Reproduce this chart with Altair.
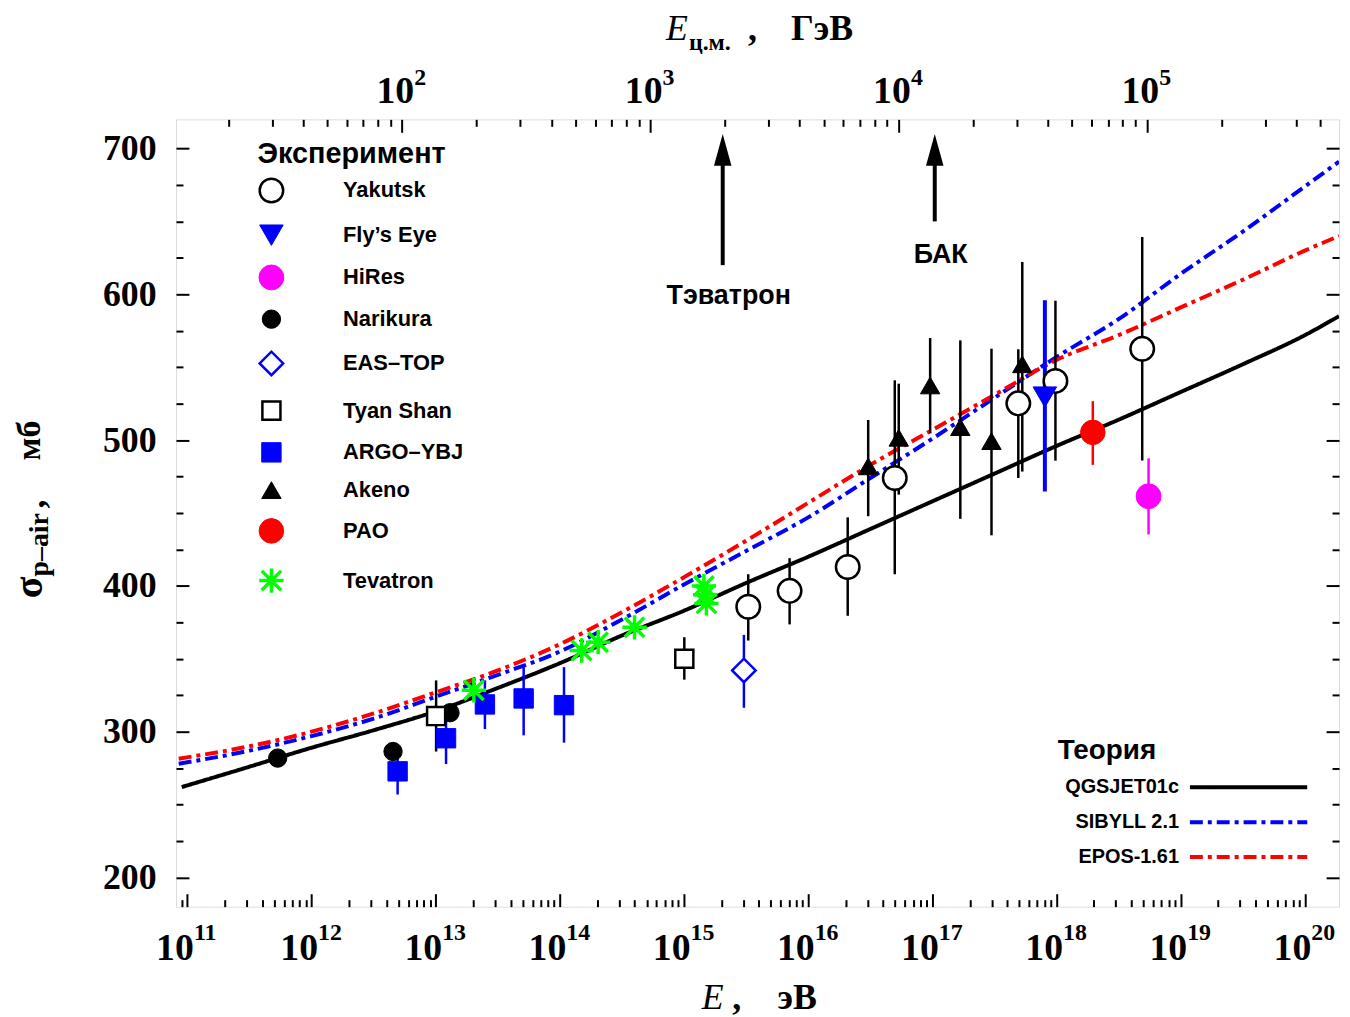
import math
import altair as alt
import pandas as pd

# ---------------- data ----------------
experiments = ["Yakutsk", "Fly’s Eye", "HiRes", "Narikura", "EAS–TOP",
               "Tyan Shan", "ARGO–YBJ", "Akeno", "PAO", "Tevatron"]

# log10(E / eV), sigma (mb), error bar low / high
yakutsk_logE = [15.517, 15.850, 16.318, 16.697, 17.692, 17.991, 18.690]
yakutsk_sigma = [385.7, 396.6, 413.0, 474.0, 525.2, 540.6, 562.6]
yakutsk_lo = [362.5, 373.6, 379.5, 408.0, 474.0, 485.9, 486.0]
yakutsk_hi = [408.0, 419.0, 447.0, 541.0, 562.3, 595.6, 639.3]

flyseye_logE = [17.906]
flyseye_sigma = [529.5]
flyseye_lo = [464.8]
flyseye_hi = [596.0]

hires_logE = [18.741]
hires_sigma = [461.5]
hires_lo = [435.3]
hires_hi = [487.5]

narikura_logE = [11.727, 12.656, 13.115]
narikura_sigma = [281.9, 286.4, 313.0]

eastop_logE = [15.482]
eastop_sigma = [342.0]
eastop_lo = [316.4]
eastop_hi = [366.4]

tyanshan_logE = [13.003, 15.002]
tyanshan_sigma = [310.7, 350.0]
tyanshan_lo = [286.4, 335.7]
tyanshan_hi = [335.2, 364.8]

argo_logE = [12.693, 13.083, 13.396, 13.708, 14.033]
argo_sigma = [272.8, 295.5, 318.7, 322.8, 318.2]
argo_lo = [256.9, 277.8, 301.8, 297.5, 292.5]
argo_hi = [287.5, 313.9, 335.2, 345.4, 344.3]

akeno_logE = [16.483, 16.729, 16.982, 17.225, 17.476, 17.724]
akeno_sigma = [482.0, 501.6, 537.5, 508.9, 499.3, 552.0]
akeno_lo = [447.8, 462.6, 504.6, 446.0, 434.7, 478.4]
akeno_hi = [513.8, 538.7, 570.0, 568.4, 562.7, 622.2]

pao_logE = [18.292]
pao_sigma = [505.3]
pao_lo = [483.0]
pao_hi = [526.7]

tevatron_logE = [13.307, 14.175, 14.308, 14.601, 15.160, 15.170, 15.180]
tevatron_sigma = [328.4, 355.7, 361.4, 371.6, 400.0, 394.0, 388.0]

# theory curves
model_names = ["QGSJET01c", "SIBYLL 2.1", "EPOS-1.61"]
qgsjet_logE = [10.954, 11.5, 12.0, 12.5, 13.0, 13.5, 14.0, 14.5, 15.0, 15.5,
               16.0, 16.5, 17.0, 17.5, 18.0, 18.5, 19.0, 19.5, 20.0, 20.275]
qgsjet_sigma = [262, 276, 289, 301, 314, 330, 347, 366, 383, 402,
                420, 439, 458, 477, 496, 514, 533, 552, 572, 585]
sibyll_logE = [10.93, 11.5, 12.0, 12.5, 13.0, 13.5, 14.0, 14.5, 15.0, 15.5,
               16.0, 16.5, 17.0, 17.5, 18.0, 18.5, 19.0, 19.5, 20.0, 20.275]
sibyll_sigma = [278, 287, 297, 309, 324, 339, 355, 377, 401, 424,
                447, 474, 501, 529, 557, 583, 614, 643, 674, 691]
epos_logE = [10.93, 11.5, 12.0, 12.5, 13.0, 13.5, 14.0, 14.5, 15.0, 15.5,
             16.0, 16.5, 17.0, 17.5, 18.0, 18.5, 19.0, 19.5, 20.0, 20.275]
epos_sigma = [281.5, 290, 300, 312.5, 327, 342, 360, 382, 406, 431,
              457, 483, 507, 531, 555, 572, 591, 610, 630, 640]

# colliders (centre-of-mass energy, GeV)
colliders = ["Тэватрон", "БАК"]
collider_ecm = [1960.0, 14000.0]
arrow_tail = [620.0, 650.0]
arrow_tip = [710.0, 710.0]
collider_label_sigma = [593.6, 621.6]

# axes
logE_min, logE_max = 10.908, 20.275
sigma_min, sigma_max = 180, 720
y_tick_values = list(range(200, 701, 25))
y_label_values = list(range(200, 701, 100))
E_label_exponents = list(range(11, 21))
Ecm_label_exponents = [2, 3, 4, 5]
M_PROTON = 0.938  # GeV

# ---------------- tables ----------------
def ecm_from_logE(le):
    return math.sqrt(2 * M_PROTON * 10 ** (le - 9))

exp_table = {
    "Yakutsk": (yakutsk_logE, yakutsk_sigma, yakutsk_lo, yakutsk_hi),
    "Fly’s Eye": (flyseye_logE, flyseye_sigma, flyseye_lo, flyseye_hi),
    "HiRes": (hires_logE, hires_sigma, hires_lo, hires_hi),
    "Narikura": (narikura_logE, narikura_sigma, None, None),
    "EAS–TOP": (eastop_logE, eastop_sigma, eastop_lo, eastop_hi),
    "Tyan Shan": (tyanshan_logE, tyanshan_sigma, tyanshan_lo, tyanshan_hi),
    "ARGO–YBJ": (argo_logE, argo_sigma, argo_lo, argo_hi),
    "Akeno": (akeno_logE, akeno_sigma, akeno_lo, akeno_hi),
    "PAO": (pao_logE, pao_sigma, pao_lo, pao_hi),
    "Tevatron": (tevatron_logE, tevatron_sigma, None, None),
}
pts, bars = [], []
for name in experiments:
    le, s, lo, hi = exp_table[name]
    for i in range(len(le)):
        pts.append({"exp": name, "E": 10 ** le[i], "sigma": s[i]})
        if lo is not None:
            bars.append({"exp": name, "E": 10 ** le[i], "lo": lo[i], "hi": hi[i]})
points_df = pd.DataFrame(pts)
bars_df = pd.DataFrame(bars)

curve_rows = []
for name, le, s in [(model_names[0], qgsjet_logE, qgsjet_sigma),
                    (model_names[1], sibyll_logE, sibyll_sigma),
                    (model_names[2], epos_logE, epos_sigma)]:
    for a, b in zip(le, s):
        curve_rows.append({"model": name, "E": 10 ** a, "sigma": b})
curves_df = pd.DataFrame(curve_rows)

arrows_df = pd.DataFrame({
    "name": colliders, "Ecm": collider_ecm, "tail": arrow_tail,
    "tip": arrow_tip, "base": [t - 16 for t in arrow_tip],
    "label_sigma": collider_label_sigma,
})

E_dom = [10 ** logE_min, 10 ** logE_max]
Ecm_dom = [ecm_from_logE(logE_min), ecm_from_logE(logE_max)]
E_ticks = [m * 10.0 ** n for n in range(10, 21) for m in range(1, 10)
           if logE_min <= math.log10(m * 10.0 ** n) <= logE_max]
Ecm_ticks = [m * 10.0 ** n for n in range(1, 6) for m in range(1, 10)
             if Ecm_dom[0] <= m * 10.0 ** n <= Ecm_dom[1]]
E_majors = [10.0 ** n for n in E_label_exponents]
Ecm_majors = [10.0 ** n for n in Ecm_label_exponents]

# ---------------- styles ----------------
W, H = 1170, 792
SERIF = "Liberation Serif"
SANS = "Liberation Sans"
STAR = "M0,-1L0,1M-1,0L1,0M-0.8,-0.8L0.8,0.8M-0.8,0.8L0.8,-0.8"
ARROW = "M0,0L0.55,2L-0.55,2Z"
LEGEND_LINE = "M-5,0L5,0"
exp_shapes = ["circle", "triangle-down", "circle", "circle", "diamond",
              "square", "square", "triangle-up", "circle", STAR]
exp_fills = ["white", "#0000ff", "#ff00ff", "black", "white",
             "white", "#0000ff", "black", "#ff0000", "white"]
exp_strokes = ["black", "#0000ff", "#ff00ff", "black", "#0000ff",
               "black", "#0000ff", "black", "#ff0000", "#00ff00"]
exp_sizes = [560, 560, 625, 340, 560, 330, 380, 380, 610, 600]
exp_swidths = [2.5, 1, 1, 1, 2.5, 2.5, 1, 1, 1, 3.5]
model_colors = ["black", "#0000ff", "#ff0000"]
model_dashes = [[1, 0], [13, 5, 4, 5], [13, 5, 4, 5]]
bar_groups = [  # (experiments, colour, width)
    (["Yakutsk", "Tyan Shan", "Akeno"], "black", 2.5),
    (["EAS–TOP", "ARGO–YBJ"], "#0000ff", 2.5),
    (["Fly’s Eye"], "#0000ff", 4),
    (["HiRes"], "#ff00ff", 2.5),
    (["PAO"], "#ff0000", 2.5),
]

xE = alt.Scale(type="log", domain=E_dom, nice=False)
xC = alt.Scale(type="log", domain=Ecm_dom, nice=False)
yS = alt.Scale(domain=[sigma_min, sigma_max], nice=False, zero=False)

LOG_MAJOR = "abs(log(datum.value)/LN10 - round(log(datum.value)/LN10)) < 0.001"
Y_MAJOR = "datum.value % 100 == 0"
EXP_EXPR = "format(round(log(datum.value)/LN10), 'd')"


def tick_axis(orient, offset, values, test):
    return alt.Axis(orient=orient, offset=offset, values=values, labels=False,
                    domain=False, grid=False, ticks=True, title=None,
                    tickColor="black", tickWidth=2,
                    tickSize={"condition": {"test": test, "value": 13}, "value": 7})


def label_axis(orient, values, expr, align, offset, padding, size,
               baseline="alphabetic"):
    return alt.Axis(orient=orient, values=values, labelExpr=expr,
                    labelAlign=align, labelOffset=offset, labelPadding=padding,
                    labelBaseline=baseline, labelFont=SERIF, labelFontSize=size,
                    labelFontWeight="bold", labelColor="black", ticks=False,
                    tickSize=0, domain=False, grid=False, title=None,
                    labelOverlap=False, labelFlush=False, labelBound=False)


def txt(text, x, y, size, font=SERIF, weight="bold", style="normal",
        align="center", angle=0):
    return alt.Chart(alt.InlineData(values=[{}])).mark_text(
        text=text, font=font, fontSize=size, fontWeight=weight,
        fontStyle=style, align=align, baseline="alphabetic", angle=angle,
        color="black").encode(x=alt.value(x), y=alt.value(y))


exp_legend = alt.Legend(
    title="Эксперимент", orient="none", legendX=82, legendY=21, padding=0,
    titleFont=SANS, titleFontSize=29, titleFontWeight="bold", titleColor="black",
    titlePadding=8, titleLimit=0, labelFont=SANS, labelFontSize=22,
    labelFontWeight="bold", labelColor="black", labelOffset=58, rowPadding=15,
    labelLimit=0, symbolOpacity=1)

thy_legend = alt.Legend(
    title=None, orient="none", legendX=1065, legendY=658, padding=0,
    symbolType=LEGEND_LINE, symbolSize=557, symbolStrokeWidth=4,
    labelFont=SANS, labelFontSize=20, labelFontWeight="bold", labelColor="black",
    labelAlign="right", labelOffset={"expr": "-84"}, rowPadding=11,
    labelLimit=0)

# ---------------- data marks ----------------
curves = alt.Chart(curves_df).mark_line(strokeWidth=4, interpolate="monotone",
                                        clip=True).encode(
    x=alt.X("E:Q", scale=xE, axis=None),
    y=alt.Y("sigma:Q", scale=yS, axis=None),
    color=alt.Color("model:N", scale=alt.Scale(domain=model_names, range=model_colors),
                    legend=thy_legend),
    strokeDash=alt.StrokeDash("model:N",
                              scale=alt.Scale(domain=model_names, range=model_dashes),
                              legend=thy_legend),
)

bar_layers = [
    alt.Chart(bars_df).transform_filter(
        alt.FieldOneOfPredicate(field="exp", oneOf=names)
    ).mark_rule(strokeWidth=width, color=colour).encode(
        x=alt.X("E:Q", scale=xE, axis=None),
        y=alt.Y("lo:Q", scale=yS, axis=None),
        y2="hi:Q",
    )
    for names, colour, width in bar_groups
]

points = alt.Chart(points_df).mark_point(filled=True, opacity=1).encode(
    x=alt.X("E:Q", scale=xE, axis=None),
    y=alt.Y("sigma:Q", scale=yS, axis=None),
    shape=alt.Shape("exp:N", scale=alt.Scale(domain=experiments, range=exp_shapes),
                    legend=exp_legend),
    fill=alt.Fill("exp:N", scale=alt.Scale(domain=experiments, range=exp_fills),
                  legend=exp_legend),
    stroke=alt.Stroke("exp:N", scale=alt.Scale(domain=experiments, range=exp_strokes),
                      legend=exp_legend),
    size=alt.Size("exp:N", scale=alt.Scale(type="ordinal", domain=experiments,
                                           range=exp_sizes), legend=exp_legend),
    strokeWidth=alt.StrokeWidth("exp:N", scale=alt.Scale(type="ordinal",
                                                         domain=experiments,
                                                         range=exp_swidths),
                                legend=exp_legend),
)

arrow_rule = alt.Chart(arrows_df).mark_rule(strokeWidth=4, color="black").encode(
    x=alt.X("Ecm:Q", scale=xC, axis=None),
    y=alt.Y("tail:Q", scale=yS, axis=None),
    y2="base:Q",
)
arrow_head = alt.Chart(arrows_df).mark_point(
    shape=ARROW, filled=True, size=1024, color="black", opacity=1, strokeWidth=0).encode(
    x=alt.X("Ecm:Q", scale=xC, axis=None),
    y=alt.Y("tip:Q", scale=yS, axis=None),
)
arrow_text = alt.Chart(arrows_df).mark_text(
    font=SANS, fontSize=27, fontWeight="bold", color="black", dx=6,
    baseline="alphabetic").encode(
    x=alt.X("Ecm:Q", scale=xC, axis=None),
    y=alt.Y("label_sigma:Q", scale=yS, axis=None),
    text="name:N",
)

titles = [
    # bottom: E, эВ
    txt("E", 540, 895, 36, weight="normal", style="italic"),
    txt(",", 564, 895, 36),
    txt("эВ", 625, 895, 36),
    # top: E_ц.м., ГэВ
    txt("E", 504, -80, 36, weight="normal", style="italic"),
    txt("ц.м.", 516, -70, 24, align="left"),
    txt(",", 580, -80, 36),
    txt("ГэВ", 650, -80, 36),
    # left: sigma_p-air, мб
    txt("σ", -135, 471, 40, angle=270),
    txt("p–air", -129, 428, 28, angle=270),
    txt(",", -133, 387, 36, angle=270),
    txt("мб", -137, 323, 34, angle=270),
    # theory legend title
    txt("Теория", 887, 643, 28, font=SANS, align="left"),
]

# ---------------- axis layers (invisible carriers) ----------------
def carrier(df, xfield, xscale, xaxis, yfield, yaxis):
    return alt.Chart(df).mark_point(opacity=0).encode(
        x=alt.X(xfield, scale=xscale, axis=xaxis),
        y=alt.Y(yfield, scale=yS, axis=yaxis),
    )

ax_bottom_10 = carrier(curves_df, "E:Q", xE,
                       label_axis("bottom", E_majors, "'10'", "right", 6, 53, 38),
                       "sigma:Q",
                       label_axis("left", y_label_values, "datum.label", "right", 0,
                                  20, 36, baseline="middle"))
ax_bottom_exp = carrier(curves_df, "E:Q", xE,
                        label_axis("bottom", E_majors, EXP_EXPR, "left", 6, 33, 24),
                        "sigma:Q", None)
ax_top_10 = carrier(arrows_df, "Ecm:Q", xC,
                    label_axis("top", Ecm_majors, "'10'", "right", 12, 17, 38),
                    "tail:Q", None)
ax_top_exp = carrier(arrows_df, "Ecm:Q", xC,
                     label_axis("top", Ecm_majors, EXP_EXPR, "left", 12, 35, 24),
                     "tail:Q", None)
ticks_bl = carrier(curves_df, "E:Q", xE, tick_axis("top", -H, E_ticks, LOG_MAJOR),
                   "sigma:Q", tick_axis("right", -W, y_tick_values, Y_MAJOR))
ticks_tr = carrier(arrows_df, "Ecm:Q", xC,
                   tick_axis("bottom", -H, Ecm_ticks, LOG_MAJOR),
                   "tail:Q", tick_axis("left", -W, y_tick_values, Y_MAJOR))

chart = alt.layer(
    curves, *bar_layers, points, arrow_rule, arrow_head, arrow_text,
    *titles,
    ax_bottom_10, ax_bottom_exp, ax_top_10, ax_top_exp, ticks_bl, ticks_tr,
).resolve_scale(x="independent", y="independent").resolve_axis(
    x="independent", y="independent").properties(
    width=W, height=H,
    autosize=alt.AutoSizeParams(type="none"),
    padding={"left": 169, "top": 109, "right": 3, "bottom": 110},
).configure_view(stroke="black", strokeWidth=2.5).configure(background="white")

chart.save("out.html", embed_options={"renderer": "svg", "actions": False})
